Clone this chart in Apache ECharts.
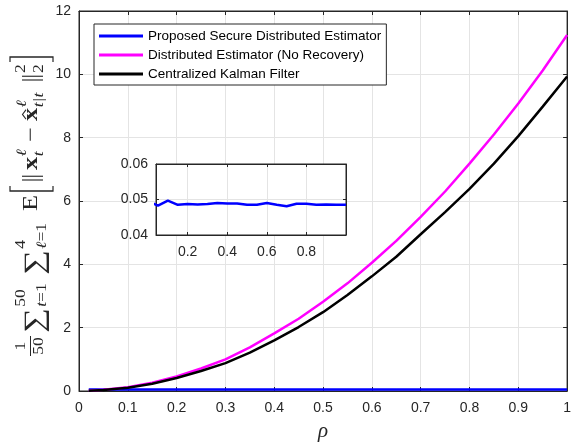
<!DOCTYPE html>
<html><head><meta charset="utf-8">
<script src="https://cdn.jsdelivr.net/npm/echarts@6/dist/echarts.min.js"></script>
<style>html,body{margin:0;padding:0;background:#fff}#c{width:574px;height:447px}</style>
</head><body><div id="c"></div>
<script>
// ---------- data ----------
const rho = [0.02, 0.05, 0.10, 0.15, 0.20, 0.25, 0.30, 0.35, 0.40, 0.45, 0.50,
             0.55, 0.60, 0.65, 0.70, 0.75, 0.80, 0.85, 0.90, 0.95, 1.00];
const secureErr = [0.0490, 0.0483, 0.0497, 0.0485, 0.0487, 0.0486, 0.0487, 0.0490, 0.0489, 0.0489, 0.0485,
                   0.0485, 0.0490, 0.0485, 0.0481, 0.0488, 0.0488, 0.0485, 0.0486, 0.0485, 0.0485];
const noRecoveryErr = [0.01, 0.04, 0.12, 0.26, 0.46, 0.71, 1.00, 1.38, 1.82, 2.28, 2.82,
                       3.40, 4.05, 4.74, 5.50, 6.30, 7.18, 8.10, 9.08, 10.12, 11.24];
const kalmanErr = [0.01, 0.03, 0.10, 0.23, 0.41, 0.63, 0.88, 1.21, 1.60, 2.02, 2.49,
                   3.03, 3.62, 4.24, 4.95, 5.65, 6.38, 7.18, 8.05, 8.98, 9.93];
const seriesNames = ['Proposed Secure Distributed Estimator', 'Distributed Estimator (No Recovery)', 'Centralized Kalman Filter'];
const seriesColors = ['#0000ff', '#ff00ff', '#000000'];

// ---------- styles ----------
const INK = '#262626';
const GRIDC = '#e4e4e4';
const SANS = '"Liberation Sans", Arial, Helvetica, sans-serif';
const SERIF = '"Liberation Serif", "DejaVu Serif", serif';

// ---------- y-axis label (math text, laid out along the text direction) ----------
const K = 1.25; // elongation along the text direction
const meas = document.createElement('canvas').getContext('2d');
function width(t, size, it, b) { meas.font = (it ? 'italic ' : '') + (b ? 'bold ' : '') + size + 'px ' + SERIF; return meas.measureText(t).width; }
const lab = [];
function put(t, u, base, size, it, b) {
  lab.push({ type: 'text', x: u, y: base - 0.3 * size,
    style: { text: t, fontSize: size, fontFamily: SERIF, fontStyle: it ? 'italic' : 'normal', fontWeight: b ? 'bold' : 'normal',
             fill: INK, align: 'left', verticalAlign: 'middle' } });
}
function run(list, u, base, size) { let x = u; list.forEach(([t, it, b]) => { put(t, x, base, size, it, b); x += width(t, size, it, b); }); return x - u; }
function runW(list, size) { return list.reduce((s, [t, it, b]) => s + width(t, size, it, b), 0); }
function scripts(u, sup, sub, size, supV, subV) {
  const a = sup ? runW(sup, size) : 0, b = sub ? runW(sub, size) : 0;
  if (sup) run(sup, u, supV, size); if (sub) run(sub, u, subV, size);
  return Math.max(a, b);
}
function line(x1, y1, x2, y2, lw) { lab.push({ type: 'line', shape: { x1, y1, x2, y2 }, style: { stroke: INK, lineWidth: lw || 1 } }); }
function poly(pts, lw) { lab.push({ type: 'polyline', shape: { points: pts }, style: { stroke: INK, fill: null, lineWidth: lw || 1 } }); }
const at = t => t / K; // screen distance along the label -> local units

const M = 21, S = 14, SUM = 28;
let u;
// fraction 1/50
const fw = width('50', S) + 2;
u = at(1);
run([['1']], u + (fw - width('1', S)) / 2, -12, S);
run([['50']], u + 1, 6, S);
line(u, -7.5, u + fw, -7.5, 1);
// sum_{t=1}^{50}
u = at(24);
put('∑', u, 6, SUM); u += width('∑', SUM) + 1;
scripts(u, [['50']], [['t', 1], ['=1']], S, -12, 9);
// sum_{l=1}^{4}
u = at(82);
put('∑', u, 6, SUM); u += width('∑', SUM) + 1;
scripts(u, [['4']], [['ℓ', 1], ['=1']], S, -12, 9);
// E
put('E', at(146), 0, M);
// [
const bt = -28, bb = 15;
u = at(166);
poly([[u + 4, bt], [u, bt], [u, bb], [u + 4, bb]], 1.2);
// ||
u = at(177);
line(u, -16, u, 5, 0.9); line(u + 3, -16, u + 3, 5, 0.9);
// x_t^l
const xw = width('x', M, 0, 1);
u = at(187);
put('x', u, 0, M, 0, 1); u += xw + 0.5;
scripts(u, [['ℓ', 1]], [['t', 1]], S, -11, 6);
// minus
put('−', at(215), 0, M);
// hat x_{t|t}^l
u = at(236);
put('x', u, 0, M, 0, 1); poly([[u + 1.5, -12], [u + xw / 2, -15.5], [u + xw - 1.5, -12]], 1);
u += xw + 0.5;
scripts(u, [['ℓ', 1]], [['t|t', 1]], S, -11, 6);
// ||
u = at(277);
line(u, -16, u, 5, 0.9); line(u + 3, -16, u + 3, 5, 0.9);
// ^2 _2
scripts(at(284), [['2']], [['2']], S, -12, 6);
// ]
u = at(300);
poly([[u - 4, bt], [u, bt], [u, bb], [u - 4, bb]], 1.2);

// ---------- chart ----------
const chart = echarts.init(document.getElementById('c'), null, { renderer: 'canvas' });
const pairs = arr => rho.map((x, i) => [x, arr[i]]);

function xAx(grid, pos, min, max, extra) {
  return Object.assign({
    gridIndex: grid, type: 'value', position: pos, min: min, max: max,
    axisLine: { show: true, onZero: false, lineStyle: { color: INK, width: 1 } },
    axisTick: { show: true, inside: true, length: 4, lineStyle: { color: INK } },
    axisLabel: { show: pos === 'bottom', color: INK, fontSize: 14, fontFamily: SANS, margin: 10 },
    splitLine: { show: pos === 'bottom', lineStyle: { color: GRIDC, width: 1 } }
  }, extra);
}
function yAx(grid, pos, min, max, extra) {
  return Object.assign({
    gridIndex: grid, type: 'value', position: pos, min: min, max: max,
    axisLine: { show: true, onZero: false, lineStyle: { color: INK, width: 1 } },
    axisTick: { show: true, inside: true, length: 4, lineStyle: { color: INK } },
    axisLabel: { show: pos === 'left', color: INK, fontSize: 14, fontFamily: SANS, margin: 8 },
    splitLine: { show: pos === 'left', lineStyle: { color: GRIDC, width: 1 } }
  }, extra);
}
const fmtMain = v => String(+v.toFixed(2));
const smallTick = { show: true, inside: true, length: 3, lineStyle: { color: INK } };

const option = {
  animation: false,
  backgroundColor: '#fff',
  grid: [
    { left: 79, right: 2, top: 11, bottom: 50, show: true, borderColor: INK, borderWidth: 1, backgroundColor: '#fff', containLabel: false },
    { left: 156, top: 164, width: 190, height: 71, show: true, borderColor: INK, borderWidth: 1, backgroundColor: '#fff', containLabel: false, z: 1 }
  ],
  xAxis: [
    xAx(0, 'bottom', 0, 1, { interval: 0.1, axisLabel: { color: INK, fontSize: 14, fontFamily: SANS, margin: 10, formatter: fmtMain },
      name: 'ρ', nameLocation: 'middle', nameGap: 30,
      nameTextStyle: { fontFamily: SERIF, fontStyle: 'italic', fontSize: 21, color: INK } }),
    xAx(0, 'top', 0, 1, { interval: 0.1 }),
    xAx(1, 'bottom', 0.04, 1, { splitNumber: 5, z: 2, axisTick: smallTick,
      axisLabel: { color: INK, fontSize: 14, fontFamily: SANS, margin: 10, showMinLabel: false, showMaxLabel: false, formatter: v => v.toFixed(1) } }),
    xAx(1, 'top', 0.04, 1, { splitNumber: 5, z: 2, axisTick: smallTick })
  ],
  yAxis: [
    yAx(0, 'left', 0, 12, { interval: 2 }),
    yAx(0, 'right', 0, 12, { interval: 2 }),
    yAx(1, 'left', 0.04, 0.06, { interval: 0.01, z: 2, axisTick: smallTick,
      axisLabel: { color: INK, fontSize: 14, fontFamily: SANS, margin: 8, formatter: v => v.toFixed(2) } }),
    yAx(1, 'right', 0.04, 0.06, { interval: 0.01, z: 2, axisTick: smallTick })
  ],
  legend: {
    orient: 'vertical', left: 94, top: 24, itemWidth: 44, itemHeight: 3, itemGap: 5, icon: 'rect',
    padding: [5, 5, 4, 5], borderColor: INK, borderWidth: 1, backgroundColor: '#fff',
    textStyle: { fontSize: 13.5, fontFamily: SANS, color: '#000', lineHeight: 14 },
    data: seriesNames
  },
  series: [
    { name: seriesNames[0], type: 'line', xAxisIndex: 0, yAxisIndex: 0, data: pairs(secureErr), showSymbol: false, color: seriesColors[0], lineStyle: { width: 2.5, color: seriesColors[0] } },
    { name: seriesNames[1], type: 'line', xAxisIndex: 0, yAxisIndex: 0, data: pairs(noRecoveryErr), showSymbol: false, color: seriesColors[1], lineStyle: { width: 2.5, color: seriesColors[1] } },
    { name: seriesNames[2], type: 'line', xAxisIndex: 0, yAxisIndex: 0, data: pairs(kalmanErr), showSymbol: false, color: seriesColors[2], lineStyle: { width: 2.5, color: seriesColors[2] } },
    { name: 'inset', type: 'line', xAxisIndex: 2, yAxisIndex: 2, data: pairs(secureErr), showSymbol: false, clip: true, z: 3, color: seriesColors[0], lineStyle: { width: 2.5, color: seriesColors[0] } }
  ],
  graphic: { elements: [ { type: 'group', x: 38, y: 357, rotation: Math.PI / 2, scaleX: K, children: lab } ] }
};
chart.setOption(option);
</script>
</body></html>
